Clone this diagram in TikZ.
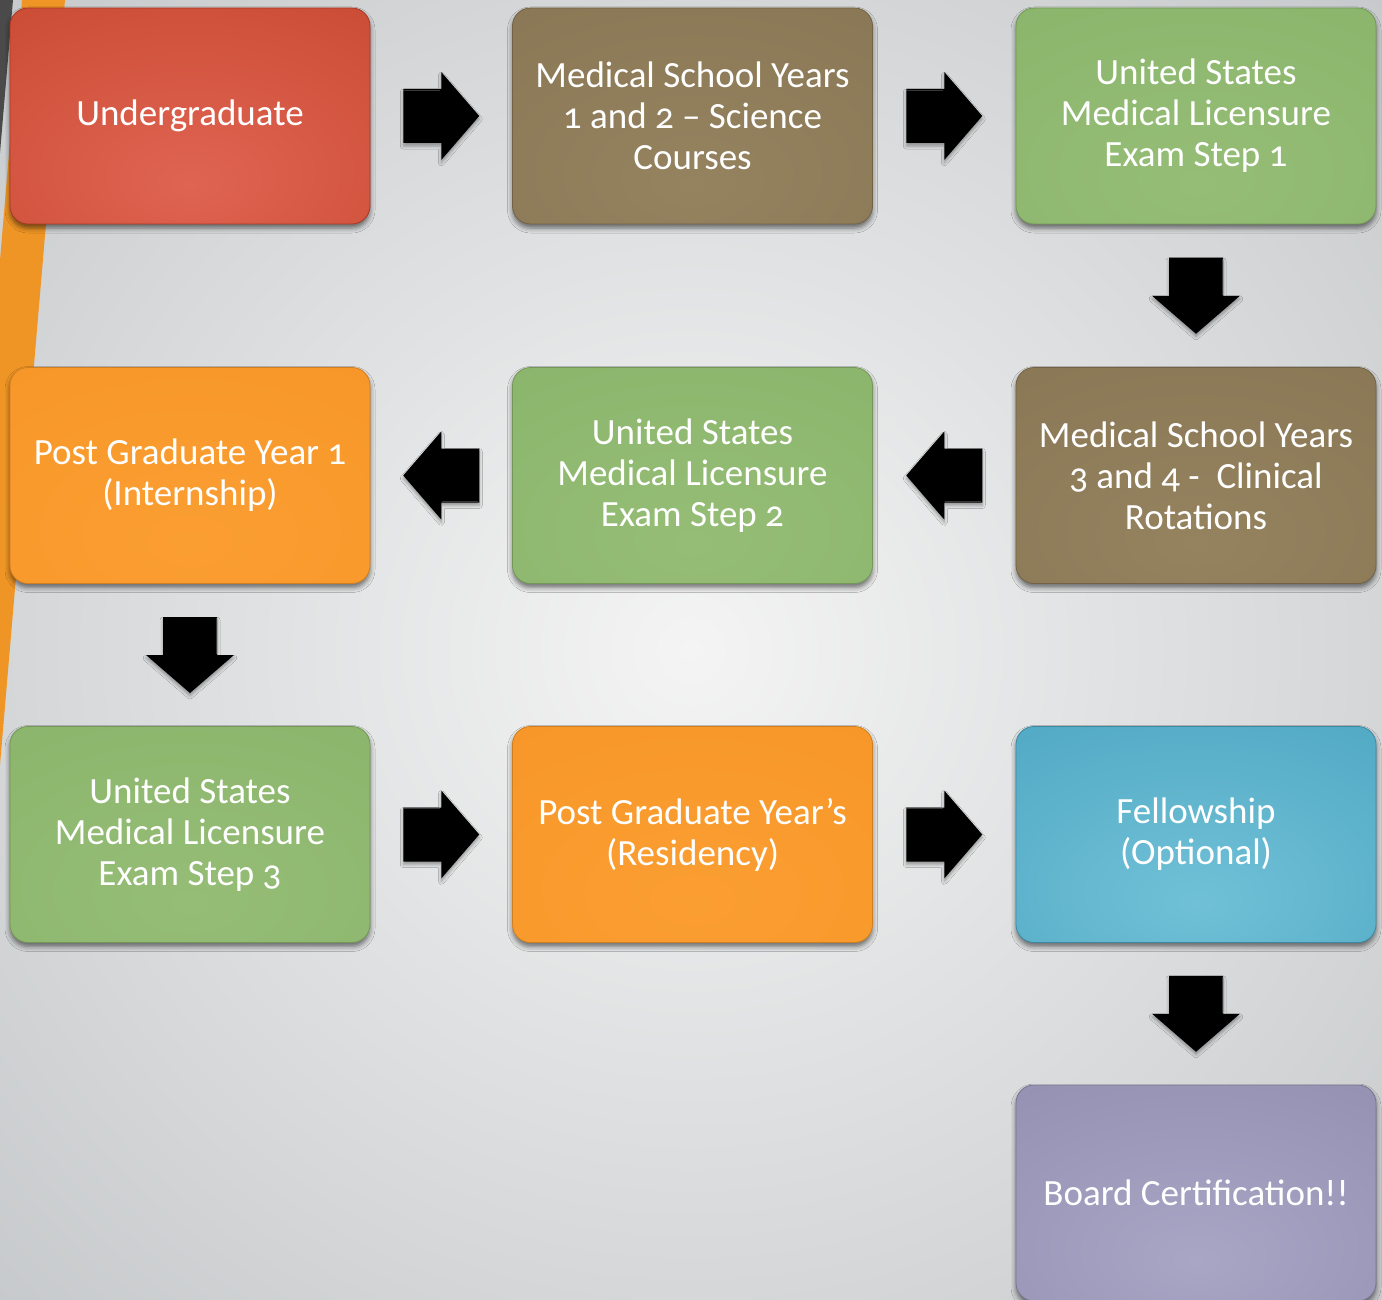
\documentclass[tikz,border=0pt]{standalone}
\usepackage{fontspec}
\setmainfont[Numbers=OldStyle]{Carlito}
\usetikzlibrary{calc,shadows,shadows.blur}
\definecolor{bgin}{HTML}{F4F4F4}
\definecolor{bgout}{HTML}{C6C9CB}
\definecolor{stripgray}{HTML}{4A4A4A}
\definecolor{striporange}{HTML}{EF9525}
\definecolor{redin}{HTML}{DF6452}\definecolor{redout}{HTML}{C4432A}
\definecolor{brnin}{HTML}{95825F}\definecolor{brnout}{HTML}{867351}
\definecolor{grnin}{HTML}{95BD76}\definecolor{grnout}{HTML}{88B268}
\definecolor{orgin}{HTML}{FB9E32}\definecolor{orgout}{HTML}{F69425}
\definecolor{bluin}{HTML}{70C1D7}\definecolor{bluout}{HTML}{46A0BD}
\definecolor{purin}{HTML}{A8A5C5}\definecolor{purout}{HTML}{8D89AB}
\colorlet{boxin}{white}\colorlet{boxout}{black}
\pgfdeclareradialshading[boxin,boxout]{boxrad}{\pgfpoint{0bp}{-16bp}}{color(0bp)=(boxin);color(60bp)=(boxout);color(100bp)=(boxout)}
\tikzset{
  stagebox/.style 2 args={rectangle, rounded corners=18pt, minimum width=360pt, minimum height=216pt,
    /utils/exec={\colorlet{boxin}{#1}\colorlet{boxout}{#2}}, shading=boxrad,
    draw=#2!85!black, line width=0.8pt,
    blur shadow={shadow xshift=0pt, shadow yshift=-4pt, shadow blur radius=5pt, shadow opacity=55},
    text=white, align=center, font=\fontsize{37}{41}\selectfont},
  arrowbody/.style={fill=black, blur shadow={shadow xshift=0pt, shadow yshift=-3pt, shadow blur radius=3pt, shadow opacity=35}},
  barrow/.pic={
    \path[arrowbody] (-38,-27) -- (0,-27) -- (0,-44) -- (38,0) -- (0,44) -- (0,27) -- (-38,27) -- cycle;
    \draw[white!22!black, line width=0.6pt] (-37,26) -- (-1,26);
  }
}
\begin{document}
\begin{tikzpicture}[x=1pt,y=1pt]
\useasboundingbox (0,0) rectangle (1382,-1300);
\begin{scope}
\clip (0,0) rectangle (1382,-1300);
\shade[inner color=bgin, outer color=bgout] (-300,300) rectangle (1682,-1600);
\fill[stripgray] (0,0) -- (13,0) -- (0,-153) -- cycle;
\fill[striporange] (22,0) -- (65,0) -- (0,-765) -- (0,-260) -- cycle;

\node[stagebox={redin}{redout}] (ug) at (190,-116) {Undergraduate};
\node[stagebox={brnin}{brnout}] (ms12) at (692.5,-116) {Medical School Years\\1 and 2 -- Science\\Courses};
\node[stagebox={grnin}{grnout}] (s1) at (1196,-116) {United States\\Medical Licensure\\Exam Step 1};
\node[stagebox={brnin}{brnout}] (ms34) at (1196,-475.5) {Medical School Years\\3 and 4 -\ \ Clinical\\Rotations};
\node[stagebox={grnin}{grnout}] (s2) at (692.5,-475.5) {United States\\Medical Licensure\\Exam Step 2};
\node[stagebox={orgin}{orgout}] (pgy1) at (190,-475.5) {Post Graduate Year 1\\(Internship)};
\node[stagebox={grnin}{grnout}] (s3) at (190,-834.5) {United States\\Medical Licensure\\Exam Step 3};
\node[stagebox={orgin}{orgout}] (res) at (692.5,-834.5) {Post Graduate Year’s\\(Residency)};
\node[stagebox={bluin}{bluout}] (fel) at (1196,-834.5) {Fellowship\\(Optional)};
\node[stagebox={purin}{purout}] (bc) at (1196,-1193) {Board Certification!!};

\pic at ($(ug.east)!0.5!(ms12.west)$) {barrow};
\pic at ($(ms12.east)!0.5!(s1.west)$) {barrow};
\pic[rotate=-90] at ($(s1.south)!0.5!(ms34.north)$) {barrow};
\pic[rotate=180] at ($(ms34.west)!0.5!(s2.east)$) {barrow};
\pic[rotate=180] at ($(s2.west)!0.5!(pgy1.east)$) {barrow};
\pic[rotate=-90] at ($(pgy1.south)!0.5!(s3.north)$) {barrow};
\pic at ($(s3.east)!0.5!(res.west)$) {barrow};
\pic at ($(res.east)!0.5!(fel.west)$) {barrow};
\pic[rotate=-90] at ($(fel.south)!0.5!(bc.north)$) {barrow};
\end{scope}
\end{tikzpicture}
\end{document}
